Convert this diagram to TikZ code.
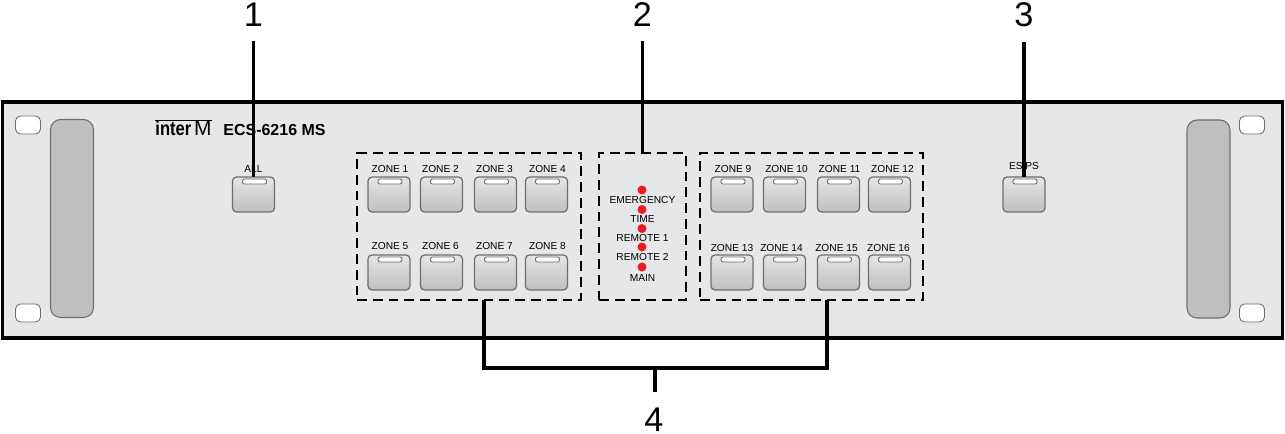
\documentclass[tikz,border=0pt]{standalone}
\usepackage{fontspec}
\setmainfont{Liberation Sans}
\usetikzlibrary{positioning}
\definecolor{panelgray}{HTML}{E6E7E8}
\definecolor{handlegray}{HTML}{BEBFC1}
\definecolor{edgegray}{HTML}{6D6E70}
\definecolor{ledred}{HTML}{ED1C24}
\begin{document}
\begin{tikzpicture}
[x=.02cm, y=-.02cm,
every node/.style={outer sep=0pt},
% STYLES
% The panel style is used to draw the front plate
panel/.style={rectangle, draw, line width=2pt, fill=panelgray, minimum width=25.6cm, minimum height=4.72cm, inner sep=0pt},
% The handle and mounthole styles are used for the rack ears
handle/.style={rectangle, draw=edgegray, line width=.6pt, rounded corners=.2cm, fill=handlegray, minimum width=.86cm, minimum height=3.96cm, inner sep=0pt},
mounthole/.style={rectangle, draw=edgegray, line width=.5pt, rounded corners=.1cm, fill=white, minimum width=.5cm, minimum height=.36cm, inner sep=0pt},
% The button style is used to draw the keys, slot is the lamp on each key
button/.style={rectangle, draw=edgegray, line width=.7pt, rounded corners=.08cm, top color=black!10, middle color=black!12, bottom color=black!25, minimum width=.84cm, minimum height=.7cm, inner sep=0pt},
slot/.style={rectangle, draw=edgegray, line width=.5pt, rounded corners=.04cm, fill=white, minimum width=.48cm, minimum height=.1cm, inner sep=0pt},
% The group style is used for the dashed frames
group/.style={rectangle, draw, line width=1.4pt, dash pattern=on 5.6pt off 3.4pt, minimum height=2.94cm, inner sep=0pt},
led/.style={circle, fill=ledred, minimum size=.18cm, inner sep=0pt},
caption/.style={font=\fontsize{5.8pt}{6pt}\selectfont, inner sep=0pt},
number/.style={font=\fontsize{19.5pt}{20pt}\selectfont, inner sep=0pt},
leader/.style={line width=1.8pt}]
\useasboundingbox (0,0) rectangle (1285,433);
% Draw plate
\node [panel] (plate) at (642.5,220) {};
\node [handle] (handleleft) at (72,218.5) {};
\node [handle] (handleright) at (1208.5,219) {};
\node [mounthole] (holea) at (28,125) {};
\node [mounthole] (holeb) at (28,313) {};
\node [mounthole] (holec) at (1252,125) {};
\node [mounthole] (holed) at (1252,313) {};
% Logo and model
\node [inner sep=0pt, anchor=base] (logo) at (183.5,135) {\scalebox{1}[1.2]{\fontsize{9.4pt}{10pt}\selectfont\bfseries inter}\,\fontsize{11.9pt}{12pt}\selectfont M};
\draw [line width=.8pt] (logo.north west) -- (logo.north east);
\node [inner sep=0pt, font=\fontsize{9.1pt}{10pt}\selectfont\bfseries] (model) at (274.5,130) {ECS-6216 MS};
% Draw dashed frames
\node [group, minimum width=4.48cm] (leftzones) at (469,226.5) {};
\node [group, minimum width=1.74cm] (ledzone) at (642.5,226.5) {};
\node [group, minimum width=4.46cm] (rightzones) at (811.5,226.5) {};
% Draw zone keys
\node [button] (zone1) at (389,194.5) {};
\node [button] (zone9) at (732,194.5) {};
\foreach \n/\prev/\gap in {2/1/.21,3/2/.24,4/3/.18,10/9/.21,11/10/.24,12/11/.18}
  \node [button, right=\gap cm of zone\prev] (zone\n) {};
\foreach \n/\up in {5/1,6/2,7/3,8/4,13/9,14/10,15/11,16/12}
  \node [button, below=.86cm of zone\up] (zone\n) {};
\foreach \n/\dx in {1/1,2/-1,3/-1,4/1,9/1,10/2,11/1,12/3}
  \node [caption, above=.09cm of zone\n, xshift=\dx*.02cm] (zonetext\n) {ZONE \n};
\foreach \n/\dx in {5/1,6/-1,7/-1,8/1}
  \node [caption, above=.1cm of zone\n, xshift=\dx*.02cm] (zonetext\n) {ZONE \n};
\foreach \n/\dx in {13/0,14/-3,15/-2,16/-1}
  \node [caption, above=.07cm of zone\n, xshift=\dx*.02cm] (zonetext\n) {ZONE \n};
% Single keys
\node [button] (allkey) at (253.5,194.5) {};
\node [caption, above=.09cm of allkey] (alltext) {ALL};
\node [button] (espskey) at (1024,194.5) {};
\node [caption, above=.14cm of espskey] (espstext) {ES/PS};
\foreach \k in {zone1,zone2,zone3,zone4,zone5,zone6,zone7,zone8,zone9,zone10,zone11,zone12,zone13,zone14,zone15,zone16,allkey,espskey}
  \node [slot, below=.04cm of \k.north, xshift=.02cm] (slot\k) {};
% Draw status lamps
\foreach \n/\ly/\ty/\t in {a/190/200/EMERGENCY,b/209.5/218.5/TIME,c/228.5/237.5/REMOTE 1,d/247/257/REMOTE 2,e/267/278/MAIN}{
  \node [led] (lamp\n) at (642,\ly) {};
  \node [caption] (lamptext\n) at (642.5,\ty) {\t};
}
% Draw numbers
\node [number] (num1) at (253.5,14.5) {1};
\node [number] (num2) at (642.5,14.5) {2};
\node [number] (num3) at (1024,14.5) {3};
\node [number] (num4) at (654,419.5) {4};
% Draw the links
\coordinate (bracketa) at (484,300);
\coordinate (bracketb) at (827,300);
\coordinate (bracketc) at (655,368);
\draw [leader, shorten <=.3cm] (num1.south) -- (allkey.north);
\draw [leader, shorten <=.3cm] (num2.south) -- (ledzone.north);
\draw [leader, shorten <=.3cm] (num3.south) -- (espskey.north);
\draw [leader] (bracketa) |- (bracketc) -| (bracketb);
\draw [leader, shorten >=.32cm] (bracketc) -- (num4.north -| bracketc);
\end{tikzpicture}
\end{document}
